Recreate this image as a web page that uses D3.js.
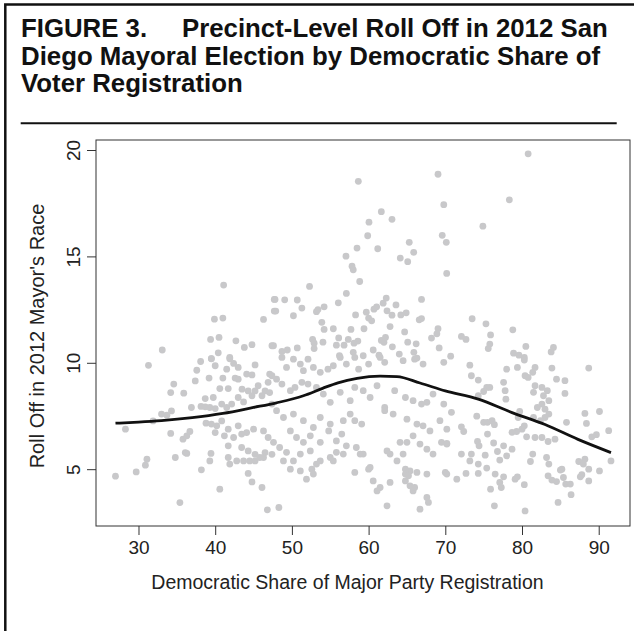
<!DOCTYPE html>
<html lang="en">
<head>
<meta charset="UTF-8">
<title>Figure 3 - Roll Off by Democratic Share</title>
<script src="https://cdnjs.cloudflare.com/ajax/libs/d3/7.8.5/d3.min.js"></script>
<style>
    body { margin: 0; background: #fff; }
    svg text { font-family: "Liberation Sans", Arial, Helvetica, sans-serif; }
</style>
</head>
<body>
<svg id="chart" width="634" height="631"></svg>
<script>
// tick values
const xTicks = [30, 40, 50, 60, 70, 80, 90];
const yTicks = [5, 10, 15, 20];

// precinct points: [democratic share, roll off]
const upperPoints = [
    [41.1,13.65],[47.7,12.98],[47.7,12.43],[39.9,12.05],[41.0,12.1],[46.3,12.04],[39.4,11.1],[40.5,11.19],
    [42.7,11.03],[43.8,10.72],[44.8,10.85],[47.4,10.8],[33.1,10.6],[40.4,10.47],[39.5,10.2],[41.9,10.25],
    [58.66,18.53],[69.05,18.86],[69.8,17.43],[61.66,17.1],[60.05,16.61],[63.05,16.74],[59.88,15.97],[58.49,15.39],
    [61.19,15.36],[69.6,15.99],[70.13,15.66],[65.3,15.66],[65.88,15.19],[64.13,14.92],[65.1,14.75],[57.05,15.01],
    [57.84,14.54],[58.0,14.37],[70.18,14.2],[58.84,13.82],[52.3,13.59],[57.1,13.26],[56.05,12.82],[62.3,13.04],
    [61.9,12.8],[66.9,12.98],[63.57,12.72],[47.8,12.98],[49.06,12.96],[50.7,12.95],[47.9,12.43],[51.3,12.57],
    [50.2,12.21],[53.2,12.4],[53.4,12.5],[54.2,12.63],[58.3,12.25],[59.7,12.38],[60.0,12.1],[60.4,11.97],
    [60.7,12.52],[61.05,12.63],[62.4,12.44],[63.05,12.24],[64.2,12.25],[64.9,12.35],[66.6,12.02],[66.9,12.08],
    [53.9,11.9],[55.4,11.6],[54.2,11.57],[57.7,11.57],[59.4,11.6],[62.8,11.7],[64.7,11.45],[69.05,11.6],
    [68.9,11.36],[68.2,11.16],[69.2,10.7],[52.7,11.1],[52.9,10.92],[54.05,10.97],[56.1,11.17],[57.35,11.1],
    [58.6,11.02],[58.1,10.92],[61.66,11.05],[62.2,11.19],[62.0,10.96],[65.1,10.97],[66.2,10.89],[55.8,10.83],
    [56.8,10.83],[47.6,10.8],[48.7,10.53],[49.4,10.6],[50.7,10.7],[52.9,10.67],[63.1,10.75],[65.9,10.49],
    [60.6,10.6],[61.35,10.36],[64.0,10.41],[58.0,10.49],[59.3,10.33],[56.2,10.33],[66.3,10.22],
    [80.8,19.82],[78.35,17.66],[74.9,16.42],[73.5,12.07],[75.3,11.83],[75.9,11.31],[78.8,11.55],[72.1,11.24],
    [72.7,11.1],[75.8,10.88],[75.6,10.67],[80.5,10.77],[84.1,10.72],[83.8,10.51],[78.9,10.45],[79.6,10.36],
    [80.3,10.25],[70.7,10.31]
];

const lowerLeftPoints = [
    [31.3,9.88],[34.6,9.0],[34.2,8.6],[35.9,8.57],[37.4,9.15],[37.6,9.65],[38.1,10.06],[39.5,10.19],
    [40.0,9.86],[39.2,9.28],[41.0,9.28],[41.5,9.7],[41.9,10.19],[42.4,9.97],[43.0,9.78],[42.6,9.28],
    [43.0,9.23],[44.1,9.47],[44.8,9.43],[45.2,9.9],[40.6,8.79],[41.7,8.79],[38.7,8.32],[39.75,8.37],
    [36.9,7.9],[38.15,7.95],[38.7,7.93],[39.3,7.9],[40.0,7.85],[40.85,8.06],[41.5,7.9],[42.15,8.06],
    [43.5,8.76],[43.0,8.37],[43.7,8.16],[44.3,8.68],[44.8,8.45],[45.2,8.68],[45.6,8.92],[46.1,8.45],
    [46.5,8.68],[46.9,9.08],[47.4,9.39],[47.1,8.6],[47.4,8.06],[33.0,7.59],[33.7,7.54],[34.3,7.74],
    [28.3,6.88],[31.9,7.27],[34.2,6.68],[35.8,6.41],[36.3,6.57],[36.7,6.77],[38.8,7.16],[39.5,7.12],
    [40.2,7.04],[40.85,7.27],[40.0,6.72],[41.2,6.57],[42.4,6.49],[43.45,6.65],[41.7,6.88],[43.0,7.04],
    [44.1,6.72],[45.0,6.88],[46.3,6.8],[46.9,6.49],[41.7,6.1],[43.45,6.02],[44.3,5.86],[45.2,5.7],
    [45.8,5.55],[46.5,5.78],[47.4,5.7],[43.7,5.39],[44.5,5.39],[45.2,5.39],[46.3,5.55],[36.1,5.78],
    [36.3,5.74],[34.8,5.55],[31.1,5.47],[30.9,5.19],[29.7,4.87],[27.0,4.67],[39.45,5.74],[39.3,5.39],
    [38.2,4.97],[41.7,5.55],[41.9,5.24],[42.8,5.39],[44.3,4.8],[44.8,4.4],[40.6,4.06],[46.1,4.14],
    [35.4,3.43],[46.8,3.09]
];

const lowerMiddlePoints = [
    [48.7,10.25],[49.3,9.78],[50.2,10.17],[51.1,9.94],[51.5,9.63],[52.1,10.17],[52.8,9.78],[53.7,9.55],
    [54.7,9.7],[55.4,9.86],[56.3,10.25],[57.1,9.94],[58.2,10.25],[58.7,9.7],[60.0,9.94],[61.5,10.25],
    [62.1,10.02],[64.5,10.1],[66.0,10.17],[67.1,9.94],[69.8,10.02],[47.1,9.47],[48.0,9.23],[48.7,9.0],
    [49.8,8.69],[50.4,8.84],[51.3,9.08],[52.1,9.0],[53.2,8.84],[54.1,8.53],[55.0,8.14],[56.3,8.61],
    [57.6,8.22],[58.2,8.84],[59.3,8.69],[60.2,8.37],[61.1,8.92],[62.1,7.9],[63.4,8.69],[64.8,8.37],
    [65.8,8.22],[66.9,8.06],[67.6,8.14],[68.4,8.53],[69.8,8.06],[66.3,7.12],[67.1,7.04],[68.0,6.8],
    [69.3,7.28],[70.2,6.88],[63.2,7.59],[62.1,7.75],[65.0,7.35],[57.6,7.59],[58.2,7.28],[59.1,7.12],
    [56.7,7.28],[55.0,7.12],[53.7,7.43],[52.8,6.96],[51.5,7.28],[50.2,7.59],[48.9,7.43],[48.0,7.75],
    [49.8,6.8],[50.6,6.49],[51.5,6.26],[52.4,6.57],[53.7,6.26],[54.8,6.8],[55.8,6.33],[56.5,6.65],
    [57.1,6.1],[58.4,6.02],[59.3,5.71],[56.7,5.71],[55.8,5.79],[55.0,5.55],[53.7,5.39],[52.4,5.86],
    [51.1,5.71],[50.2,5.39],[49.3,5.79],[48.4,6.02],[47.6,6.26],[48.9,5.39],[49.8,5.0],[51.1,4.92],
    [52.6,5.0],[53.2,5.24],[55.4,5.39],[58.9,5.71],[60.2,5.08],[62.4,5.86],[62.8,5.71],[64.1,6.26],
    [65.0,6.26],[65.8,6.57],[66.7,6.18],[67.6,5.94],[68.4,5.71],[69.5,6.26],[70.2,6.18],[63.7,5.39],
    [64.5,5.71],[64.8,5.0],[65.4,4.92],[66.3,4.85],[67.6,4.77],[70.0,4.85],[58.2,4.85],[60.0,5.0],
    [60.6,4.45],[61.5,4.14],[61.1,3.98],[62.8,4.38],[64.8,4.45],[65.4,4.22],[65.8,3.98],[66.0,4.14],
    [67.6,3.67],[67.8,3.44],[66.7,3.12],[62.4,3.28],[48.3,3.2],[51.9,4.53],[52.8,4.77],[64.8,4.77],
    [65.2,4.69]
];

const lowerRightPoints = [
    [88.7,9.75],[83.9,9.75],[80.4,9.39],[80.8,9.31],[81.7,8.92],[81.5,8.61],[82.6,8.84],[84.5,9.23],
    [85.6,9.16],[85.6,8.56],[77.6,9.08],[77.8,8.69],[77.9,8.29],[75.4,8.84],[75.8,8.84],[74.3,8.45],
    [75.0,8.65],[73.2,9.89],[73.4,9.39],[74.3,9.19],[78.0,9.7],[79.4,9.78],[80.3,10.13],[81.7,9.78],
    [81.4,9.55],[70.8,7.67],[72.1,6.99],[72.4,6.77],[74.1,7.49],[75.0,7.2],[75.5,7.2],[76.1,7.28],
    [76.4,7.09],[75.5,6.65],[74.2,6.3],[74.4,6.1],[76.3,6.23],[77.6,6.1],[76.8,5.83],[78.7,5.94],
    [77.1,5.43],[78.0,5.63],[72.1,5.71],[73.4,5.71],[73.2,5.39],[74.3,5.24],[75.2,5.66],[75.4,5.05],
    [74.3,4.8],[72.7,4.8],[71.5,4.53],[70.2,4.77],[70.2,6.21],[76.5,4.77],[77.6,4.64],[77.1,4.38],
    [79.1,4.53],[79.4,4.64],[80.3,4.27],[75.9,4.06],[77.3,4.14],[76.4,3.28],[80.4,3.04],[81.4,5.71],
    [81.1,5.36],[83.2,5.55],[83.5,5.24],[85.0,4.96],[85.2,5.0],[83.4,4.69],[83.9,4.49],[84.5,4.42],
    [85.4,4.61],[85.7,4.3],[84.7,3.44],[86.4,3.8],[86.3,4.3],[87.6,4.64],[87.8,4.74],[87.4,5.36],
    [88.2,5.47],[88.0,5.24],[88.7,5.0],[88.7,4.45],[90.1,4.92],[91.6,5.39],[91.3,6.81],[90.1,7.71],
    [88.2,7.62],[88.4,7.15],[89.1,6.52],[89.7,6.62],[85.8,7.2],[84.3,6.41],[83.4,6.3],[82.6,6.49],
    [81.7,6.49],[80.6,6.52],[79.3,6.77],[78.7,6.73],[80.0,6.88],[79.7,7.71],[82.0,7.9],[82.6,8.06],
    [83.0,7.82],[83.5,7.59],[83.0,7.43],[82.4,7.28],[81.5,7.43],[83.5,8.22],[82.8,8.45],[83.3,8.69],
    [79.5,7.43],[80.3,7.04]
];

// smoothed fit line
const smoothX = [27, 30, 33, 37, 41, 45, 48, 51.5, 54, 56, 58.5, 61.5, 63.7, 66.7, 70, 74.3, 78.7, 83, 87.3, 91.6];
const smoothY = [7.16, 7.21, 7.28, 7.42, 7.62, 7.9, 8.12, 8.45, 8.8, 9.06, 9.27, 9.37, 9.35, 9.05, 8.68, 8.29, 7.66, 7.1, 6.4, 5.78];

const svg = d3.select("#chart");

const plot = { left: 96, right: 630, top: 140, bottom: 526 };

const x = d3.scaleLinear().domain([24.46, 94.08]).range([plot.left, plot.right]);
const y = d3.scaleLinear().domain([2.33, 20.47]).range([plot.bottom, plot.top]);

// page frame
svg.append("path")
    .attr("d", "M5.3,631 L5.3,4.5 L634,4.5")
    .attr("fill", "none")
    .attr("stroke", "#111")
    .attr("stroke-width", 2.5);

// title
const title = svg.append("g").attr("font-weight", "bold").attr("font-size", 25.8).attr("fill", "#111");
title.append("text").attr("x", 21).attr("y", 37).text("FIGURE 3.");
title.append("text").attr("x", 182).attr("y", 37).text("Precinct-Level Roll Off in 2012 San");
title.append("text").attr("x", 21).attr("y", 64.5).text("Diego Mayoral Election by Democratic Share of");
title.append("text").attr("x", 21).attr("y", 92).text("Voter Registration");

svg.append("line")
    .attr("x1", 20.7).attr("x2", 616.7)
    .attr("y1", 123.3).attr("y2", 123.3)
    .attr("stroke", "#111")
    .attr("stroke-width", 2);

// points
const allPoints = upperPoints.concat(lowerLeftPoints, lowerMiddlePoints, lowerRightPoints);
svg.append("g")
    .selectAll("circle")
    .data(allPoints)
    .join("circle")
    .attr("cx", d => x(d[0]))
    .attr("cy", d => y(d[1]))
    .attr("r", 3.4)
    .attr("fill", "#c8c8ca");

// fitted line
const line = d3.line()
    .x(d => x(d[0]))
    .y(d => y(d[1]))
    .curve(d3.curveMonotoneX);

svg.append("path")
    .datum(smoothX.map((v, i) => [v, smoothY[i]]))
    .attr("d", line)
    .attr("fill", "none")
    .attr("stroke", "#111")
    .attr("stroke-width", 2.8);

// box
svg.append("rect")
    .attr("x", plot.left).attr("y", plot.top)
    .attr("width", plot.right - plot.left)
    .attr("height", plot.bottom - plot.top)
    .attr("fill", "none")
    .attr("stroke", "#333")
    .attr("stroke-width", 1);

// axes
const xAxis = svg.append("g")
    .attr("transform", `translate(0,${plot.bottom})`)
    .call(d3.axisBottom(x).tickValues(xTicks).tickSize(9).tickPadding(6).tickSizeOuter(0));
xAxis.select(".domain").remove();
xAxis.selectAll("text").attr("font-size", 19).attr("fill", "#222").attr("font-family", null);
xAxis.selectAll("line").attr("stroke", "#333");

const yAxis = svg.append("g")
    .attr("transform", `translate(${plot.left},0)`)
    .call(d3.axisLeft(y).tickValues(yTicks).tickSize(9).tickSizeOuter(0));
yAxis.select(".domain").remove();
yAxis.selectAll("line").attr("stroke", "#333");
yAxis.selectAll("text")
    .attr("font-size", 19).attr("fill", "#222").attr("font-family", null)
    .attr("x", null).attr("dy", null)
    .attr("text-anchor", "middle")
    .attr("transform", "translate(-16.5,0) rotate(-90)");

// axis titles
svg.append("text")
    .attr("x", 347.5)
    .attr("y", 589)
    .attr("text-anchor", "middle")
    .attr("font-size", 19.5)
    .attr("fill", "#222")
    .text("Democratic Share of Major Party Registration");

svg.append("text")
    .attr("transform", "translate(43.5,336) rotate(-90)")
    .attr("text-anchor", "middle")
    .attr("font-size", 20)
    .attr("fill", "#222")
    .text("Roll Off in 2012 Mayor's Race");
</script>
</body>
</html>
